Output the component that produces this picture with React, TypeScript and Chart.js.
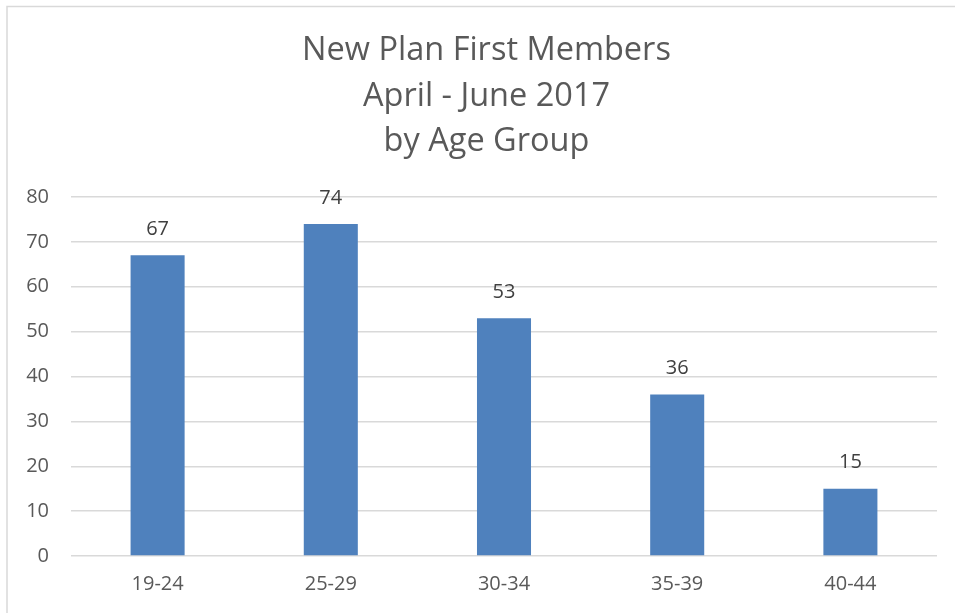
import React, { useEffect, useRef } from "react";
import { Chart, registerables } from "chart.js";

Chart.register(...registerables);

const titleLines = ["New Plan First Members", "April - June 2017", "by Age Group"];
const categories = ["19-24", "25-29", "30-34", "35-39", "40-44"];
const members = [67, 74, 53, 36, 15];
const yTicks = [0, 10, 20, 30, 40, 50, 60, 70, 80];

const FONT = "'Open Sans', 'Liberation Sans', sans-serif";
const TEXT = "#595959";

const framePlugin = {
  id: "frame",
  beforeDraw(chart: any) {
    const ctx = chart.ctx;
    ctx.save();
    ctx.fillStyle = "#ffffff";
    ctx.fillRect(0, 0, chart.width, chart.height);
    ctx.strokeStyle = "#d9d9d9";
    ctx.lineWidth = 1.5;
    ctx.beginPath();
    ctx.moveTo(7, chart.height);
    ctx.lineTo(7, 6.5);
    ctx.lineTo(chart.width, 6.5);
    ctx.stroke();
    ctx.restore();
  },
  afterDraw(chart: any) {
    const ctx = chart.ctx;
    ctx.save();
    ctx.fillStyle = TEXT;
    ctx.font = `32.5px ${FONT}`;
    ctx.textAlign = "center";
    ctx.textBaseline = "middle";
    titleLines.forEach((t, i) => {
      ctx.fillText(t, chart.width / 2 + 9, 51 + i * 45.5);
    });
    // data labels
    ctx.fillStyle = "#404040";
    ctx.font = `20px ${FONT}`;
    const meta = chart.getDatasetMeta(0);
    meta.data.forEach((bar: any, i: number) => {
      ctx.fillText(String(members[i]), bar.x, bar.y - 26);
    });
    ctx.restore();
  },
};

export default function App() {
  const ref = useRef<HTMLCanvasElement>(null);
  useEffect(() => {
    if (!ref.current) return;
    const chart = new Chart(ref.current, {
      type: "bar",
      data: {
        labels: categories,
        datasets: [
          {
            data: members,
            backgroundColor: "#4f81bd",
            borderWidth: 0,
            barPercentage: 0.312,
            categoryPercentage: 1,
          },
        ],
      },
      options: {
        animation: false,
        responsive: false,
        layout: { padding: { left: 0, right: 18, top: 197, bottom: 0 } },
        plugins: {
          legend: { display: false },
          title: { display: false },
          tooltip: { enabled: false },
        },
        scales: {
          x: {
            grid: { display: false, drawTicks: false },
            border: { display: false },
            ticks: { color: TEXT, font: { family: FONT, size: 20 }, padding: 16 },
            afterFit(scale: any) {
              scale.height = 57;
            },
          },
          y: {
            min: 0,
            max: 80,
            afterBuildTicks(scale: any) {
              scale.ticks = yTicks.map((v) => ({ value: v }));
            },
            grid: { color: "#d9d9d9", lineWidth: 1.5, drawTicks: false },
            border: { display: false },
            ticks: { color: TEXT, font: { family: FONT, size: 20 }, padding: 22 },
            afterFit(scale: any) {
              scale.width = 71;
            },
          },
        },
      },
      plugins: [framePlugin],
    });
    return () => chart.destroy();
  }, []);
  return (
    <div style={{ position: "absolute", left: 0, top: 0, width: 955, height: 613 }}>
      <canvas ref={ref} width={955} height={613} style={{ display: "block" }} />
    </div>
  );
}
